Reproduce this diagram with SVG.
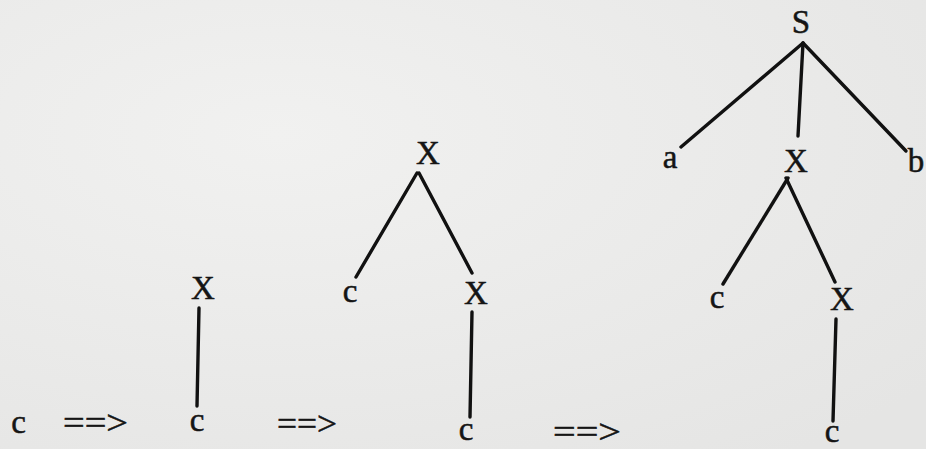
<svg xmlns="http://www.w3.org/2000/svg" width="926" height="449" viewBox="0 0 926 449">
<style>
.t{font-family:"Liberation Serif","Times New Roman",serif;font-size:33px;fill:#151515;stroke:#151515;stroke-width:0.5;text-anchor:middle}
.e{stroke:#111;stroke-width:3.4;stroke-linecap:round;fill:none}
</style>
<defs>
<radialGradient id="bg" cx="0.3" cy="0.3" r="0.9">
<stop offset="0" stop-color="#f1f1f0"/>
<stop offset="1" stop-color="#e5e5e4"/>
</radialGradient>
</defs>
<rect width="926" height="449" fill="url(#bg)"/>
<g id="connectors">
<line class="e" x1="199" y1="308" x2="197" y2="406"/>
<line class="e" x1="417" y1="173" x2="356" y2="277"/>
<line class="e" x1="419" y1="173" x2="472" y2="273"/>
<line class="e" x1="472" y1="312" x2="470" y2="417"/>
<line class="e" x1="803" y1="43" x2="681" y2="147"/>
<line class="e" x1="803" y1="43" x2="798" y2="136"/>
<line class="e" x1="803" y1="43" x2="906" y2="151"/>
<line class="e" x1="788" y1="178" x2="723" y2="284"/>
<line class="e" x1="786" y1="178" x2="835" y2="282"/>
<line class="e" x1="836" y1="319" x2="833" y2="421"/>
</g>
<g id="step0-c"><text class="t" x="18.5" y="433">c</text></g>
<g id="arrow1"><text class="t" x="63" y="434" style="text-anchor:start" textLength="65" lengthAdjust="spacingAndGlyphs">==&gt;</text></g>
<g id="t1-X"><text class="t" x="203" y="299">X</text></g>
<g id="t1-c"><text class="t" x="197" y="431">c</text></g>
<g id="arrow2"><text class="t" x="277" y="435" style="text-anchor:start" textLength="60" lengthAdjust="spacingAndGlyphs">==&gt;</text></g>
<g id="t2-X"><text class="t" x="428" y="164">X</text></g>
<g id="t2-c1"><text class="t" x="350" y="302">c</text></g>
<g id="t2-X2"><text class="t" x="476" y="304">X</text></g>
<g id="t2-c2"><text class="t" x="466" y="440">c</text></g>
<g id="arrow3"><text class="t" x="553" y="443" style="text-anchor:start" textLength="68" lengthAdjust="spacingAndGlyphs">==&gt;</text></g>
<g id="t3-S"><text class="t" x="801" y="33">S</text></g>
<g id="t3-a"><text class="t" x="670" y="168">a</text></g>
<g id="t3-X"><text class="t" x="796" y="172">X</text></g>
<g id="t3-b"><text class="t" x="916" y="172">b</text></g>
<g id="t3-c1"><text class="t" x="717" y="308">c</text></g>
<g id="t3-X2"><text class="t" x="842" y="310">X</text></g>
<g id="t3-c2"><text class="t" x="832" y="442">c</text></g>
</svg>
